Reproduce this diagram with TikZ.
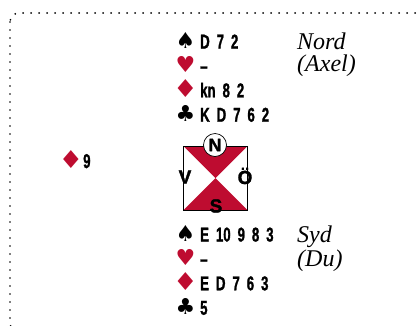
\documentclass[tikz,border=0pt]{standalone}
\usepackage{fontspec}
\usepackage{graphicx}
\newfontfamily\cardfont{Liberation Sans Bold}[FakeStretch=0.66,FakeBold=1.2,WordSpace=1.9]
\newfontfamily\suitfont{DejaVu Sans}
\newfontfamily\compfont{Liberation Sans Bold}[FakeBold=1.5]
\newfontfamily\namnfont{Liberation Serif Italic}
\newcommand\ruter{\scalebox{1.25}[1.12]{♦}}
\usepackage{tikz}
\definecolor{kortrod}{RGB}{190,12,48}
\tikzset{
  hand/.style={anchor=base west,inner sep=0pt,font=\cardfont\fontsize{20}{20}\selectfont},
  suit/.style={anchor=base,inner sep=0pt,font=\suitfont\fontsize{22}{22}\selectfont},
  spelare/.style={anchor=base west,inner sep=0pt,font=\namnfont\fontsize{24}{24}\selectfont},
  vaderstreck/.style={inner sep=0pt,font=\compfont\fontsize{19}{19}\selectfont},
}

\begin{document}
\begin{tikzpicture}[x=1pt,y=-1pt]
  % 座標はピクセル相当(y は下向き)
  \useasboundingbox (0,0) rectangle (420,325);
  \def\RadSteg{24.4} % 行間
  \def\KolX{200}     % 札の列の左端

  % 点線の枠(右と下ははみ出す)
  \draw[line width=1.9pt,line cap=round,dash pattern=on 0pt off 8pt,rounded corners=9pt]
    (10,13) rectangle (424,332);

  % 北の手
  \foreach \s/\c/\t [count=\i from 0] in {♠/black/D 7 2,♥/kortrod/–,\ruter/kortrod/kn 8 2,♣/black/K D 7 6 2} {%
    \node[suit,text=\c] (ns\i) at (185.5,48.5+\i*\RadSteg) {\s};
    \node[hand] (nh\i) at (\KolX,48.5+\i*\RadSteg) {\t};
  }
  \node[spelare] (nord) at (297,49) {Nord};
  \node[spelare] (axel) at (297,71) {(Axel)};

  % 南の手
  \foreach \s/\c/\t [count=\i from 0] in {♠/black/E 10 9 8 3,♥/kortrod/–,\ruter/kortrod/E D 7 6 3,♣/black/5} {%
    \node[suit,text=\c] (ss\i) at (185.5,241.5+\i*\RadSteg) {\s};
    \node[hand] (sh\i) at (\KolX,241.5+\i*\RadSteg) {\t};
  }
  \node[spelare] (syd) at (297,242) {Syd};
  \node[spelare] (du) at (297,266) {(Du)};

  % 西
  \node[suit,text=kortrod] (vs) at (71,168) {\ruter};
  \node[hand] (vh) at (83,168) {9};

  % 方位の四角
  \coordinate (mitt) at (215.5,178);
  \coordinate (vo) at (183.5,146);
  \coordinate (ho) at (247.5,146);
  \coordinate (vu) at (183.5,210);
  \coordinate (hu) at (247.5,210);
  \fill[kortrod] (vo) -- (ho) -- (mitt) -- cycle;
  \fill[kortrod] (vu) -- (hu) -- (mitt) -- cycle;
  \draw[line width=0.6pt] (vo) rectangle (hu);
  \node[vaderstreck,circle,draw,fill=white,line width=0.7pt,minimum size=23pt,
    font=\compfont\fontsize{18}{18}\selectfont] (N) at (215,145) {N};
  \node[vaderstreck] (V) at (185,177) {V};
  \node[vaderstreck] (O) at (245,176) {Ö};
  \node[vaderstreck] (S) at (216,206) {S};
\end{tikzpicture}
\end{document}
